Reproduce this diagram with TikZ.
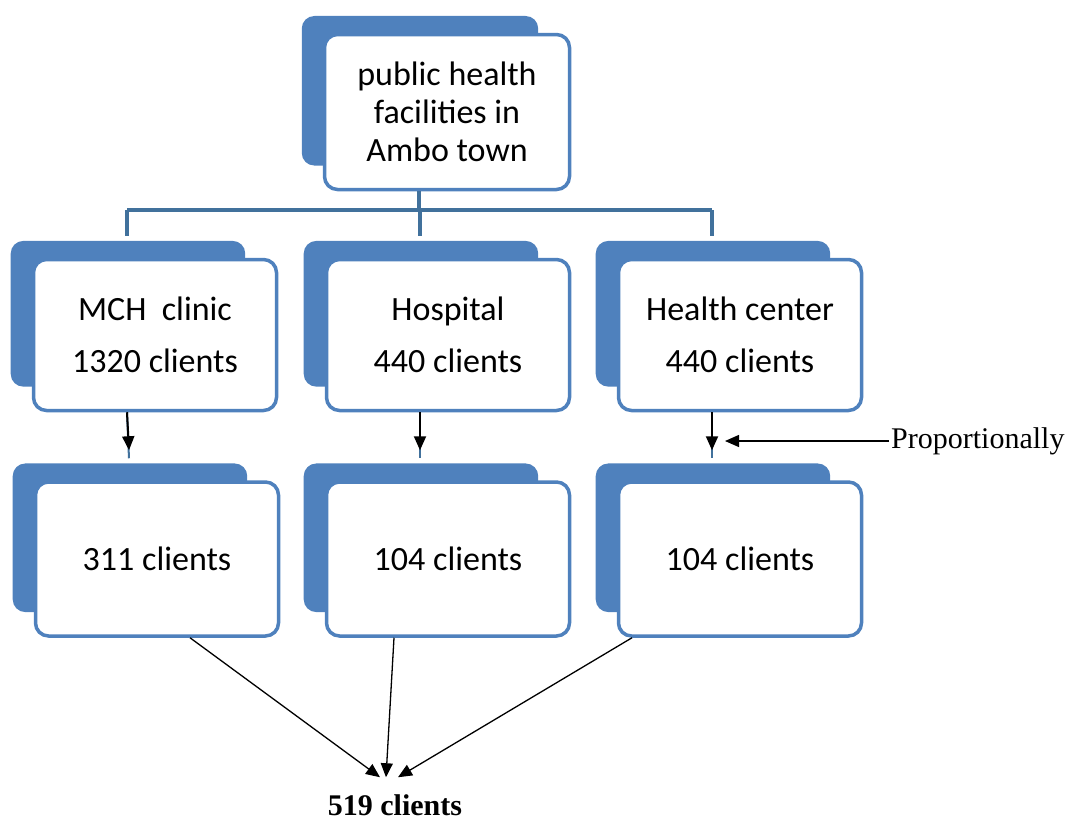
\documentclass[tikz,border=0pt]{standalone}
\usepackage{fontspec}
\setmainfont{Liberation Serif}
\newfontfamily\boxfont{Carlito}
\usetikzlibrary{shadows,arrows.meta}
\definecolor{cardblue}{HTML}{4F81BD}
\definecolor{linkblue}{HTML}{41719C}
\tikzset{card/.style={draw=cardblue,line width=3.5pt,fill=white,rounded corners=13pt,
           minimum width=243pt,minimum height=151pt,align=center,
           font=\boxfont\fontsize{34}{40}\selectfont,
           general shadow={fill=cardblue,shadow scale=0.965,shadow xshift=-28pt,shadow yshift=22pt}},
         link/.style={draw=linkblue,line width=3.5pt},
         down/.style={draw=black,line width=2pt,-{Triangle[length=14pt,width=12pt]}},
         thinarrow/.style={draw=black,line width=1.3pt,-{Triangle[length=14pt,width=12pt]}}}
\begin{document}
\begin{tikzpicture}[x=1pt,y=-1pt]
\useasboundingbox (0,0) rectangle (1072,820);
\node[card,minimum width=245pt,minimum height=155pt] (town) at (447,112)
  {public health\\[-2pt]facilities in\\[-2pt]Ambo town};
\node[card] (mch) at (155,335) {MCH\ \ clinic\\[12pt]1320 clients};
\node[card] (hosp) at (448,335) {Hospital\\[12pt]440 clients};
\node[card] (hc) at (740,335) {Health center\\[12pt]440 clients};
\node[card,minimum height=154pt] (mch2) at (157,559) {311 clients};
\node[card,minimum height=154pt] (hosp2) at (448,559) {104 clients};
\node[card,minimum height=154pt] (hc2) at (740,559) {104 clients};
\node[font=\fontsize{30}{34}\selectfont,anchor=west,inner sep=0pt] (prop) at (891,441) {Proportionally};
\node[font=\bfseries\fontsize{30}{34}\selectfont,inner sep=0pt] (total) at (395,805) {519 clients};

\foreach \n in {town,mch,hosp,hc,mch2,hosp2,hc2}
  \coordinate (\n-top) at ([xshift=-28pt,yshift=22pt]\n.north);
\coordinate (hub) at (town-top |- 0,210);

\draw[link] (town-top |- town.south) -- (hub);
\draw[link] (mch-top |- hub) -- (hc-top |- hub);
\foreach \n in {mch,hosp,hc}{
  \draw[link] (\n-top |- hub) -- (\n-top);
  \draw[link,line width=2pt] (\n-top |- \n.south) -- (\n2-top);
  \draw[down] (\n-top |- \n.south) -- ([yshift=8pt]\n2-top);
}

\coordinate (hcmark) at (hc-top |- prop.west);
\draw[thinarrow] ([xshift=-2pt]prop.west) -- ([xshift=13pt]hcmark);

\draw[thinarrow] ([xshift=33pt]mch2.south) -- ([xshift=-15pt,yshift=17pt]total.north);
\draw[thinarrow] ([xshift=-54pt]hosp2.south) -- ([xshift=-9pt,yshift=17pt]total.north);
\draw[thinarrow] ([xshift=-108pt]hc2.south) -- ([xshift=3pt,yshift=17pt]total.north);
\end{tikzpicture}
\end{document}
